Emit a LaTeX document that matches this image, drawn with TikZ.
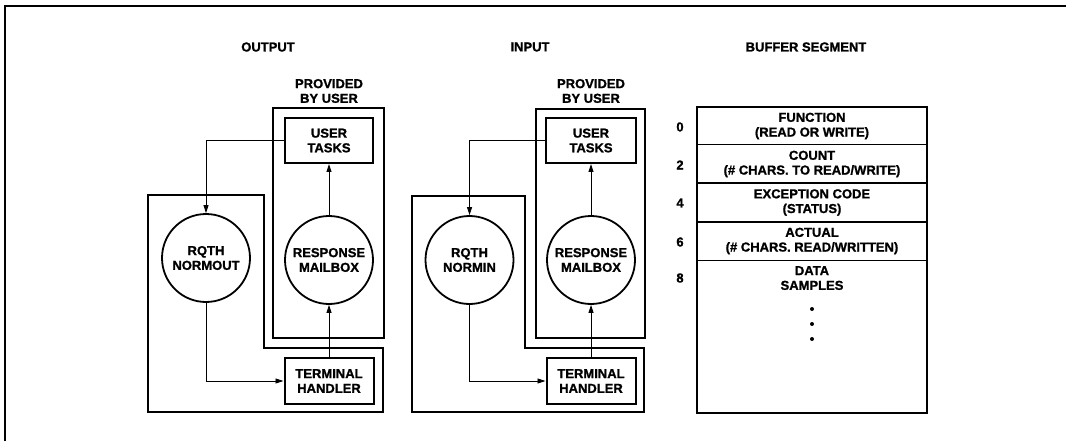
\documentclass[tikz,border=0pt]{standalone}
\usepackage{fontspec}
\setmainfont{Liberation Sans}[BoldFeatures={FakeBold=1.2}]
\usetikzlibrary{arrows.meta}
\begin{document}
\begin{tikzpicture}[x=1pt,y=-1pt,
  every node/.style={font=\fontsize{13}{14.7}\selectfont\bfseries, align=center, inner sep=0pt},
  thick box/.style={draw, line width=2pt},
  taskbox/.style={draw, line width=2pt, minimum width=88pt, minimum height=45pt},
  circ/.style={circle, draw, line width=1.8pt, minimum size=88pt},
  arr/.style={-{Triangle[length=8pt,width=5pt]}, line width=0.9pt},
  row/.style={draw, line width=1pt, minimum width=230pt, minimum height=38pt},
  lbl/.style={}]
\useasboundingbox (0,0) rectangle (1066,441);
% frame
\draw[line width=2pt] (1066,6) -- (5,6) -- (5,441);
% titles
\node[lbl] (tout) at (268,47) {OUTPUT};
\node[lbl] (tin) at (530,47) {INPUT};
\node[lbl] (tbuf) at (806,47) {BUFFER SEGMENT};

% ===== OUTPUT =====
\node[lbl] (pl1) at (329,91) {PROVIDED\\BY USER};
\draw[thick box] (273,108) rectangle (384,338);
\draw[thick box] (148,195) -- (264,195) -- (264,348) -- (383,348) -- (383,412) -- (148,412) -- cycle;
\node[taskbox] (ut1) at (329,140.5) {USER\\TASKS};
\node[circ] (rq1) at (206,258) {RQTH\\NORMOUT};
\node[circ] (rm1) at (329,260) {RESPONSE\\MAILBOX};
\node[taskbox, minimum width=89pt, minimum height=46pt] (th1) at (329,381) {TERMINAL\\HANDLER};
\draw[arr] (ut1.west) -| (rq1.north);
\draw[arr] (rq1.south) |- (th1.west);
\draw[arr] (th1.north) -- (rm1.south);
\draw[arr] (rm1.north) -- (ut1.south);

% ===== INPUT =====
\node[lbl] (pl2) at (591,91) {PROVIDED\\BY USER};
\draw[thick box] (536,109) rectangle (645,338);
\draw[thick box] (412,196) -- (525,196) -- (525,348) -- (644,348) -- (644,412) -- (412,412) -- cycle;
\node[taskbox, minimum width=90pt] (ut2) at (591,140.5) {USER\\TASKS};
\node[circ] (rq2) at (469.5,260) {RQTH\\NORMIN};
\node[circ] (rm2) at (591,260) {RESPONSE\\MAILBOX};
\node[taskbox, minimum width=89pt, minimum height=46pt] (th2) at (591,381) {TERMINAL\\HANDLER};
\draw[arr] (ut2.west) -| (rq2.north);
\draw[arr] (rq2.south) |- (th2.west);
\draw[arr] (th2.north) -- (rm2.south);
\draw[arr] (rm2.north) -- (ut2.south);

% ===== BUFFER SEGMENT =====
\node[row] (r0) at (812,126) {FUNCTION\\(READ OR WRITE)};
\node[row] (r2) at (812,164) {COUNT\\(\# CHARS. TO READ/WRITE)};
\node[row] (r4) at (812,202.5) {EXCEPTION CODE\\(STATUS)};
\node[row] (r6) at (812,241) {ACTUAL\\(\# CHARS. READ/WRITTEN)};
\node[row, minimum height=153pt] (r8) at (812,336.5) {};
\node[lbl, anchor=north] (ds) at (812,266) {DATA\\SAMPLES};
\draw[thick box] (697,107) rectangle (927,413);
\fill (812,309) circle (2pt);
\fill (812,324) circle (2pt);
\fill (812,339) circle (2pt);
\node[lbl] (n0) at (680,127) {0};
\node[lbl] (n2) at (680,165) {2};
\node[lbl] (n4) at (680,203) {4};
\node[lbl] (n6) at (680,242) {6};
\node[lbl] (n8) at (680,278) {8};
\end{tikzpicture}
\end{document}
